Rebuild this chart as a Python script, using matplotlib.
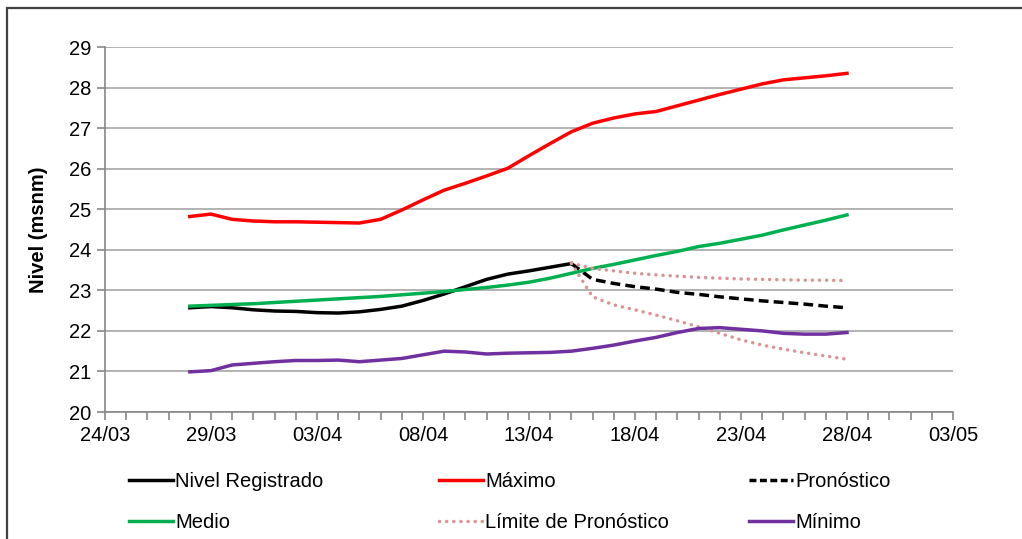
import matplotlib
matplotlib.use("Agg")
import matplotlib.pyplot as plt
from matplotlib.patches import Rectangle
from matplotlib.lines import Line2D
import pandas as pd

plt.rcParams["font.family"] = ["Liberation Sans", "DejaVu Sans"]

# daily dates, 28/03 .. 28/04
dates = pd.date_range("2014-03-28", "2014-04-28", freq="D")
obs_dates = dates[:19]   # 28/03 .. 15/04
fc_dates = dates[18:]    # 15/04 .. 28/04

maximo = [24.82, 24.88, 24.75, 24.71, 24.69, 24.69, 24.68, 24.67, 24.66, 24.75,
          24.98, 25.23, 25.47, 25.64, 25.82, 26.01, 26.32, 26.62, 26.91, 27.12,
          27.25, 27.35, 27.41, 27.55, 27.69, 27.83, 27.96, 28.09, 28.19, 28.24,
          28.29, 28.35]
medio = [22.61, 22.63, 22.65, 22.67, 22.70, 22.73, 22.76, 22.79, 22.82, 22.85,
         22.89, 22.93, 22.97, 23.02, 23.07, 23.13, 23.20, 23.30, 23.42, 23.54,
         23.64, 23.75, 23.86, 23.96, 24.08, 24.16, 24.26, 24.36, 24.49, 24.61,
         24.73, 24.86]
minimo = [20.99, 21.02, 21.16, 21.20, 21.24, 21.27, 21.27, 21.28, 21.24, 21.28,
          21.32, 21.41, 21.50, 21.48, 21.43, 21.45, 21.46, 21.47, 21.50, 21.57,
          21.65, 21.75, 21.84, 21.96, 22.06, 22.08, 22.04, 22.00, 21.94, 21.92,
          21.92, 21.96]
registrado = [22.57, 22.60, 22.57, 22.52, 22.49, 22.48, 22.45, 22.44, 22.47, 22.53,
              22.61, 22.75, 22.91, 23.09, 23.27, 23.40, 23.48, 23.57, 23.66]
pronostico = [23.66, 23.27, 23.17, 23.09, 23.03, 22.95, 22.90, 22.84, 22.79, 22.74,
              22.70, 22.66, 22.61, 22.57]
limite_sup = [23.67, 23.54, 23.48, 23.42, 23.38, 23.35, 23.32, 23.30, 23.28, 23.27,
              23.26, 23.25, 23.25, 23.24]
limite_inf = [23.67, 22.84, 22.64, 22.52, 22.39, 22.25, 22.10, 21.94, 21.78, 21.65,
              21.55, 21.46, 21.38, 21.30]

c_red = "#FF0000"
c_green = "#00B050"
c_purple = "#7030A0"
c_limit = "#D99594"
c_axis = "#868686"
lw = 2.5
fs = 14.5
dotted = (0, (0.05, 2.0))
dashed = (0, (2.8, 1.5))

fig = plt.figure(figsize=(10.22, 5.39), dpi=100)
ax = fig.add_axes([105 / 1022, 1 - 412 / 539, 848 / 1022, 365 / 539])

ax.plot(obs_dates, registrado, color="black", lw=lw, solid_joinstyle="round")
ax.plot(dates, maximo, color=c_red, lw=lw, solid_joinstyle="round")
ax.plot(fc_dates, pronostico, color="black", lw=lw, linestyle=dashed)
ax.plot(dates, medio, color=c_green, lw=lw, solid_joinstyle="round")
ax.plot(fc_dates, limite_sup, color=c_limit, lw=lw, linestyle=dotted,
        dash_capstyle="round")
ax.plot(fc_dates, limite_inf, color=c_limit, lw=lw, linestyle=dotted,
        dash_capstyle="round")
ax.plot(dates, minimo, color=c_purple, lw=lw, solid_joinstyle="round")

x0 = pd.Timestamp("2014-03-24")
x1 = pd.Timestamp("2014-05-03")
ax.set_xlim(x0, x1)
ax.set_ylim(20, 29)
ax.set_yticks(range(20, 30))
major = pd.date_range(x0, x1, freq="5D")
ax.set_xticks(major)
ax.set_xticklabels([d.strftime("%d/%m") for d in major])
ax.set_xticks(pd.date_range(x0, x1, freq="D"), minor=True)

ax.grid(axis="y", color="#A6A6A6", lw=1.2)
ax.set_axisbelow(True)
for side in ("top", "right"):
    ax.spines[side].set_visible(False)
for side in ("left", "bottom"):
    ax.spines[side].set_color(c_axis)
    ax.spines[side].set_linewidth(1.2)
ax.tick_params(axis="both", which="both", color=c_axis, width=1.2, length=6,
               direction="out", labelsize=fs, pad=4)
ax.set_ylabel("Nivel (msnm)", fontsize=fs, fontweight="bold", labelpad=15)

# legend, three columns of two rows each
entries = [
    [("Nivel Registrado", dict(color="black")), ("Medio", dict(color=c_green))],
    [("Máximo", dict(color=c_red)),
     ("Límite de Pronóstico", dict(color=c_limit, linestyle=dotted, dash_capstyle="round"))],
    [("Pronóstico", dict(color="black", linestyle=(0, (2.0, 1.0)))),
     ("Mínimo", dict(color=c_purple))],
]
col_x = [129, 439, 749]
for cx, col in zip(col_x, entries):
    handles = [Line2D([], [], lw=lw, **style) for _, style in col]
    labels = [name for name, _ in col]
    fig.legend(handles, labels, loc="upper left",
               bbox_to_anchor=(cx / 1022, 1 - 472 / 539),
               frameon=False, fontsize=fs, handlelength=2.2, handletextpad=0.1,
               borderpad=0, borderaxespad=0, labelspacing=1.1)

# outer chart border (cropped at right/bottom)
fig.patches.append(Rectangle((7 / 1022, -0.05), 1.2, 1 - 8 / 539 + 0.05,
                             transform=fig.transFigure, fill=False,
                             edgecolor="#404040", lw=1.6))

fig.savefig("out.png", dpi=100)
